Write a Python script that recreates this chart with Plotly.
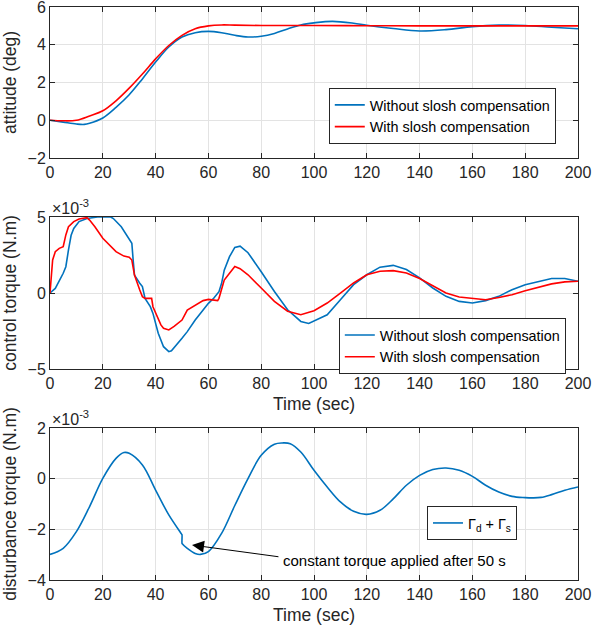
import plotly.graph_objects as go

# ---------------- data ----------------
# Panel 1: attitude (deg)
att_t_wo = [0, 5, 10, 13, 15, 20, 25, 30, 35, 40, 45, 50, 55, 60, 65, 70, 75, 80, 85, 90, 95, 100,
            107, 115, 120, 130, 140, 150, 160, 170, 180, 190, 200]
att_wo = [0, -0.1, -0.2, -0.22, -0.16, 0.12, 0.68, 1.35, 2.19, 3.08, 3.88, 4.41, 4.64, 4.71, 4.64,
          4.5, 4.41, 4.45, 4.6, 4.84, 5.05, 5.16, 5.24, 5.14, 5.03, 4.86, 4.73, 4.8, 4.96, 5.04,
          5.02, 4.93, 4.85]
att_t_w = [0, 5, 10, 15, 20, 25, 30, 35, 40, 45, 50, 55, 60, 65, 70, 80, 100, 120, 140, 160, 180, 200]
att_w = [0, -0.03, 0, 0.23, 0.5, 1.03, 1.7, 2.45, 3.25, 3.96, 4.5, 4.85, 5.0, 5.05, 5.04, 5.02,
         5.02, 5.01, 5.0, 5.0, 5.0, 5.0]

# Panel 2: control torque (x 1e-3 N.m)
ct_t_wo = [0, 2, 5, 6, 7, 8, 9, 11, 14, 18, 23, 24, 27, 30, 31, 31.5, 32, 34, 35, 36, 38, 39, 41,
           43, 45, 46, 48, 50, 52, 55, 58, 60, 62, 64, 65, 66, 68, 70, 72, 75, 80, 85, 90, 95, 98,
           100, 105, 110, 115, 120, 125, 130, 135, 140, 145, 150, 155, 160, 165, 170, 175, 180,
           185, 190, 195, 200]
ct_wo = [0, 0.3, 1.3, 1.73, 2.83, 3.8, 4.25, 4.7, 4.9, 5.0, 5.0, 4.9, 4.36, 3.6, 3.27, 2.17, 1.18,
         0.64, 0.42, -0.35, -0.9, -1.34, -2.65, -3.53, -3.86, -3.8, -3.42, -2.98, -2.54, -1.78,
         -1.12, -0.68, -0.35, 0.09, 0.64, 1.5, 2.39, 3.0, 3.08, 2.65, 1.4, 0.1, -1.1, -1.87, -2.0,
         -1.83, -1.43, -0.44, 0.55, 1.2, 1.7, 1.82, 1.54, 1.0, 0.33, -0.22, -0.55, -0.66, -0.5,
         -0.22, 0.22, 0.55, 0.77, 0.95, 0.95, 0.77]
ct_t_w = [0, 0.5, 1, 2, 3.5, 5, 6, 7, 9, 11, 14, 15, 17, 20, 23, 25, 28, 30, 31, 32, 34, 35, 36,
          38.5, 39, 40, 42, 43, 45, 47, 50, 52, 55, 58, 60, 62, 63.5, 64, 65, 66, 68, 70, 72, 75,
          80, 85, 90, 95, 100, 105, 110, 115, 120, 125, 130, 135, 140, 145, 150, 155, 160, 165,
          170, 175, 180, 185, 190, 195, 200]
ct_w = [0, 1.5, 2.17, 2.72, 2.94, 3.05, 3.82, 4.36, 4.7, 4.87, 4.96, 4.8, 4.36, 3.6, 3.05, 2.72,
        2.43, 2.35, 2.17, 1.18, 0.2, -0.24, -0.35, -0.35, -0.9, -1.34, -2.1, -2.32, -2.43, -2.2,
        -1.78, -1.12, -0.79, -0.5, -0.42, -0.46, -0.5, -0.35, 0.3, 0.85, 1.3, 1.75, 1.6, 1.2,
        0.33, -0.55, -1.2, -1.43, -1.16, -0.66, 0.0, 0.66, 1.2, 1.43, 1.47, 1.32, 0.95, 0.48, 0.0,
        -0.26, -0.37, -0.44, -0.29, -0.11, 0.15, 0.37, 0.6, 0.73, 0.77]

# Panel 3: disturbance torque (x 1e-3 N.m)
dt_t = [0, 5, 10, 15, 20, 25, 28, 30, 35, 40, 45, 49.9, 50, 50, 50.1, 52, 55, 57, 60, 65, 70, 75,
        80, 85, 88, 91, 95, 100, 105, 110, 115, 120, 125, 130, 135, 140, 145, 150, 155, 160, 165,
        170, 175, 180, 183, 186, 190, 195, 200]
dt = [-2.99, -2.75, -2.09, -1.1, 0.01, 0.8, 1.03, 1.0, 0.54, -0.45, -1.43, -2.2, -2.22, -2.55,
      -2.57, -2.75, -2.95, -2.99, -2.88, -2.16, -1.06, 0.0, 0.92, 1.36, 1.41, 1.38, 1.05, 0.33,
      -0.33, -0.92, -1.29, -1.41, -1.25, -0.8, -0.26, 0.13, 0.36, 0.42, 0.33, 0.09, -0.26,
      -0.53, -0.7, -0.75, -0.76, -0.74, -0.63, -0.46, -0.33]

x_ticks = [0, 20, 40, 60, 80, 100, 120, 140, 160, 180, 200]

BLUE = "#0072BD"
RED = "#FF0000"
FONT = "Arial, Liberation Sans, sans-serif"
TXT = "#262626"

fig = go.Figure()

fig.add_trace(go.Scatter(x=att_t_wo, y=att_wo, mode="lines", name="Without slosh compensation",
                         line=dict(color=BLUE, width=1.6, shape="spline", smoothing=1.0),
                         xaxis="x", yaxis="y", legend="legend"))
fig.add_trace(go.Scatter(x=att_t_w, y=att_w, mode="lines", name="With slosh compensation",
                         line=dict(color=RED, width=1.6, shape="spline", smoothing=1.0),
                         xaxis="x", yaxis="y", legend="legend"))
fig.add_trace(go.Scatter(x=ct_t_wo, y=ct_wo, mode="lines", name="Without slosh compensation",
                         line=dict(color=BLUE, width=1.6),
                         xaxis="x2", yaxis="y2", legend="legend2"))
fig.add_trace(go.Scatter(x=ct_t_w, y=ct_w, mode="lines", name="With slosh compensation",
                         line=dict(color=RED, width=1.6),
                         xaxis="x2", yaxis="y2", legend="legend2"))
fig.add_trace(go.Scatter(x=dt_t, y=dt, mode="lines", name="Γ<sub>d</sub> + Γ<sub>s</sub>",
                         line=dict(color=BLUE, width=1.6, shape="spline", smoothing=1.0),
                         xaxis="x3", yaxis="y3", legend="legend3"))

axis_common = dict(showline=True, linecolor=TXT, linewidth=1, mirror="allticks",
                   ticks="inside", ticklen=5, tickcolor=TXT, showgrid=True,
                   gridcolor="#E3E3E3", gridwidth=1, zeroline=False, automargin=False,
                   ticklabeloverflow="allow",
                   tickfont=dict(family=FONT, size=16, color=TXT))

d1 = [0.7365, 1.0]
d2 = [0.3682, 0.6335]
d3 = [0.0, 0.2653]

fig.update_layout(
    width=593, height=633,
    margin=dict(l=50, r=15, t=7, b=53),
    paper_bgcolor="white", plot_bgcolor="white",
    font=dict(family=FONT, size=16, color=TXT),
    showlegend=True,
    xaxis=dict(axis_common, domain=[0, 1], range=[0, 200], tickvals=x_ticks, anchor="y"),
    yaxis=dict(axis_common, domain=d1, range=[-2, 6], tickvals=[-2, 0, 2, 4, 6], anchor="x",
               title=dict(text="attitude (deg)", font=dict(size=17.5), standoff=8)),
    xaxis2=dict(axis_common, domain=[0, 1], range=[0, 200], tickvals=x_ticks, anchor="y2",
                title=dict(text="Time (sec)", font=dict(size=17.5), standoff=6)),
    yaxis2=dict(axis_common, domain=d2, range=[-5, 5], tickvals=[-5, 0, 5], anchor="x2",
                title=dict(text="control torque (N.m)", font=dict(size=17.5), standoff=8)),
    xaxis3=dict(axis_common, domain=[0, 1], range=[0, 200], tickvals=x_ticks, anchor="y3",
                title=dict(text="Time (sec)", font=dict(size=17.5), standoff=6)),
    yaxis3=dict(axis_common, domain=d3, range=[-4, 2], tickvals=[-4, -2, 0, 2], anchor="x3",
                title=dict(text="disturbance torque (N.m)", font=dict(size=17.5), standoff=8)),
    legend=dict(x=0.528, y=0.8586, xanchor="left", yanchor="top", bgcolor="white",
                bordercolor=TXT, borderwidth=1, font=dict(family=FONT, size=14.4, color="black"),
                tracegroupgap=0),
    legend2=dict(x=0.547, y=0.457, xanchor="left", yanchor="top", bgcolor="white",
                 bordercolor=TXT, borderwidth=1, font=dict(family=FONT, size=14.4, color="black"),
                 tracegroupgap=0),
    legend3=dict(x=0.714, y=0.129, xanchor="left", yanchor="top", bgcolor="white",
                 bordercolor=TXT, borderwidth=1, font=dict(family=FONT, size=14.4, color="black"),
                 tracegroupgap=0),
)

# exponent labels
for dom in (d2, d3):
    fig.add_annotation(text="×10<sup>-3</sup>", xref="paper", yref="paper", x=0.0, y=dom[1],
                       xanchor="left", yanchor="bottom", showarrow=False,
                       font=dict(family=FONT, size=16, color=TXT), xshift=0, yshift=-2)

# arrow annotation
fig.add_annotation(x=53.8, y=-2.62, xref="x3", yref="y3", ax=87.1, ay=-3.09, axref="x3",
                   ayref="y3", showarrow=True, arrowhead=2, arrowsize=2.4, arrowwidth=1,
                   arrowcolor="black", text="")
fig.add_annotation(x=87.6, y=-3.22, xref="x3", yref="y3", text="constant torque applied after 50 s",
                   showarrow=False, xanchor="left", yanchor="middle",
                   font=dict(family=FONT, size=15, color="black"))

fig.write_html("out.html", config={"displayModeBar": False},
               post_script="document.body.style.margin='0';document.body.style.overflow='hidden';")
